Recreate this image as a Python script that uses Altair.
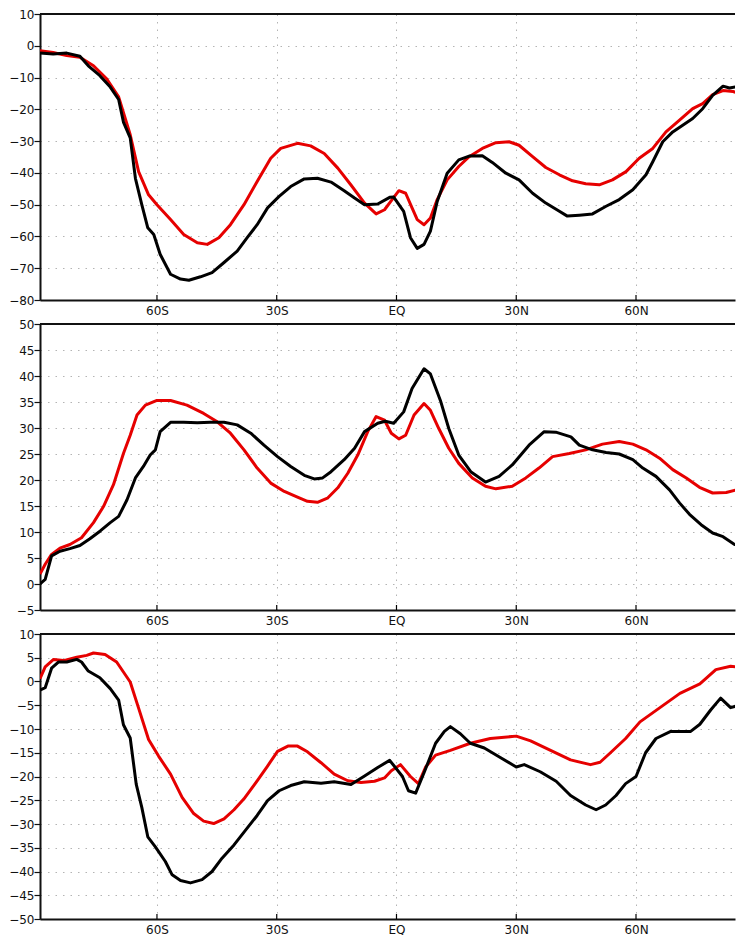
import altair as alt
import pandas as pd

# ---------------- data ----------------
x_ticks = [-60, -30, 0, 30, 60]

# Panel 1
p1_black_lat = [-89.3, -86, -82.6, -79.3, -77.2, -74.3, -71.7, -69.6, -68.4, -66.7, -65.4, -63.8, -62.3, -60.8,
                -59.2, -56.6, -54.1, -52, -49.1, -46.2, -43.2, -39.9, -37.4, -34.9, -32.3, -29.4, -26.5, -23.1,
                -19.8, -16.4, -13.1, -10.5, -8, -4.7, -1.7, -0.7, 1.8, 3.5, 5.2, 6.9, 8.5, 10.2, 12.7, 15.6, 18.2,
                21.5, 24, 27.4, 30.7, 34.1, 37.4, 40.8, 42.8, 45.8, 49.1, 52.5, 55.8, 59.2, 62.5, 64.2, 66.7,
                69.2, 71.7, 74.2, 76.7, 79.2, 81.8, 83.4, 85.9, 87.6]
p1_black_val = [-2.3, -2.6, -2.3, -3.3, -6.3, -9.4, -13, -16.9, -24, -29, -41.7, -50, -57.3, -59.4,
                -65.6, -71.9, -73.4, -73.8, -72.7, -71.4, -68.2, -64.6, -60.4, -56.3, -51, -47.4, -44.3, -41.9,
                -41.7, -42.9, -45.6, -47.9, -50, -49.8, -47.7, -47.6, -52.1, -60.4, -63.75, -62.5, -58.3, -49,
                -40.1, -35.9, -34.7, -34.6, -36.7, -40.1, -42.2, -46.4, -49.5, -52.1, -53.6, -53.3, -52.9, -50.5,
                -48.4, -45.3, -40.6, -36.5, -30.2, -27.1, -25, -22.9, -19.8, -15.6, -12.7, -13.3, -12.7, -15.4]
p1_red_lat = [-89.3, -86, -82.6, -79.3, -75.9, -72.6, -69.6, -66.7, -64.6, -62.1, -60, -56.6, -53.3, -49.9,
              -47.4, -44.5, -41.6, -38.2, -34.9, -31.5, -29, -24.8, -21.5, -18.1, -14.7, -11.4, -8, -5.1, -3,
              -1.1, 0.6, 2.3, 3.9, 5.2, 6.9, 8.5, 10.2, 12.7, 15.6, 18.2, 21.5, 24.9, 28.2, 30.7, 34.1, 37.4,
              40.8, 44.1, 47.4, 50.8, 54.1, 57.5, 60.8, 64.2, 67.5, 70.9, 74.2, 76.7, 79.2, 81.8, 84.3, 87.2]
p1_red_val = [-1.6, -2.1, -3.1, -3.6, -6.3, -10.4, -16.1, -28, -39.6, -46.9, -50, -54.7, -59.4, -62,
              -62.5, -60.4, -56.3, -50, -42.7, -35.4, -32.3, -30.7, -31.5, -33.9, -38.5, -43.8, -49.5, -52.9,
              -51.6, -48.4, -45.6, -46.4, -51, -54.7, -56.3, -54.2, -48.4, -42.2, -38, -34.9, -32.3, -30.5,
              -30.2, -31.3, -34.9, -38.3, -40.6, -42.5, -43.4, -43.75, -42.2, -39.6, -35.4, -32.3, -27.1,
              -23.4, -19.8, -18.2, -15.4, -14.1, -14.4, -15.6]

# Panel 2
p2_black_lat = [-89.3, -88, -86.4, -84.3, -81.8, -79.3, -76.8, -74.2, -71.7, -69.6, -67.5, -65.4, -63.4, -61.7,
                -60.4, -59.2, -56.6, -53.3, -49.9, -46.6, -43.2, -39.9, -36.5, -33.2, -29.8, -26.5, -23.1,
                -20.6, -18.5, -16.4, -13.1, -10.5, -8, -4.7, -2.8, -0.7, 1.8, 3.9, 6.9, 8.5, 11, 13.1, 15.6,
                18.6, 22.3, 25.7, 29, 33.2, 37, 39.9, 43.7, 45.8, 49.1, 52.5, 55.8, 59.2, 61.7, 65, 68.4, 70.9,
                73.4, 76.3, 79.2, 81.8, 84.7, 87.6]
p2_black_val = [0, 0.9, 5.4, 6.3, 6.8, 7.4, 8.7, 10.2, 11.8, 13, 16.2, 20.4, 22.6, 24.8,
                25.8, 29.3, 31.1, 31.1, 31, 31.1, 31.1, 30.6, 29, 26.7, 24.5, 22.6, 20.9,
                20.2, 20.4, 21.6, 23.9, 26.1, 29.3, 30.9, 31.3, 30.9, 33.1, 37.6, 41.4, 40.4, 35.3, 29.9, 24.8,
                21.6, 19.6, 20.7, 22.9, 26.7, 29.3, 29.2, 28.3, 26.7, 25.8, 25.3, 25, 23.9, 22.3, 20.7, 18.1,
                15.6, 13.4, 11.4, 9.8, 9.1, 7.6, 7.4]
p2_red_lat = [-89.3, -88, -86.4, -84.3, -81.8, -78.9, -75.9, -73.4, -70.9, -68.4, -66.7, -65, -62.9, -60,
              -56.6, -52.5, -48.3, -44.9, -41.6, -38.2, -34.9, -31.5, -28.1, -24.8, -22.3, -19.8, -17.3, -14.7,
              -12.2, -9.7, -7.2, -5.1, -3, -1.3, 0.6, 2.3, 4.4, 6.9, 8.5, 10.6, 13.1, 15.6, 19, 22.3, 24.9, 29,
              32.4, 35.7, 39.1, 43.3, 47.4, 51.6, 55.8, 59.2, 62.5, 65.9, 69.2, 72.6, 75.9, 79.2, 82.6, 85.1,
              86.4, 87.6]
p2_red_val = [1.9, 3.8, 5.7, 6.9, 7.6, 8.9, 11.8, 14.9, 19.1, 25.1, 28.6, 32.5, 34.4, 35.3,
              35.3, 34.4, 32.8, 31.2, 29, 25.8, 22.3, 19.4, 17.8, 16.7, 15.9, 15.7, 16.5, 18.5,
              21.3, 24.8, 29.3, 32.2, 31.5, 29, 27.9, 28.6, 32.5, 34.7, 33.4, 29.9, 26.1, 23.2, 20.4, 18.8,
              18.3, 18.8, 20.4, 22.3, 24.5, 25.1, 25.8, 26.9, 27.4, 26.9, 25.8, 24.2, 22, 20.4, 18.6, 17.5,
              17.6, 18.1, 17.5, 15.9]

# Panel 3
p3_black_lat = [-89.3, -88, -86.4, -84.7, -82.6, -80.1, -78.9, -77.2, -74.3, -71.7, -69.6, -68.4, -66.7, -65.2,
                -63.8, -62.3, -60.4, -57.9, -56.2, -54.1, -51.6, -48.7, -46.2, -43.7, -40.7, -37.8, -34.9,
                -32.3, -29.4, -26.5, -23.1, -18.9, -15.6, -11.4, -8, -4.7, -1.7, 1.5, 3, 4.8, 7, 9.8, 12, 13.5,
                16, 18.5, 22, 26, 30, 32, 36, 40, 43.6, 47.4, 50, 52.4, 55, 57.4, 60, 62.4, 65, 68.7, 73.7, 76,
                78.7, 81.2, 83.7, 85.7, 87.5]
p3_black_val = [-1.8, -1.3, 2.8, 4.1, 4.1, 4.65, 4.1, 2.2, 0.8, -1.5, -3.9, -9.1, -11.9, -21.6,
                -26.5, -32.7, -34.8, -37.9, -40.7, -41.9, -42.4, -41.7, -40, -37.2, -34.4, -31.3, -28.2,
                -25.1, -23, -21.9, -21.1, -21.4, -21.1, -21.7, -19.9, -18.1, -16.6, -20, -23, -23.5, -19, -13,
                -10.5, -9.5, -11, -13, -14, -16, -18, -17.5, -19, -21, -24, -26, -27, -26, -24, -21.5, -20, -15,
                -12, -10.5, -10.5, -9, -6, -3.5, -5.5, -5, -8]
p3_red_lat = [-89.3, -88, -85.9, -83.4, -80.1, -77.6, -75.9, -73, -70.1, -66.7, -64.6, -62.1, -59.6, -56.6,
              -53.7, -50.8, -48.3, -45.8, -43.2, -40.7, -38.2, -34.9, -32.3, -29.8, -27.2, -24.8, -22.3,
              -18.9, -15.6, -12.2, -8.9, -5.5, -3, -1.3, 1, 3.5, 5.5, 7.3, 9.8, 13.5, 18.5, 23.5, 30, 33.6,
              38.6, 43.6, 48.6, 51, 53.6, 57.4, 61, 66, 71, 76, 80, 83.7, 85.7, 87.5]
p3_red_val = [0.6, 3.1, 4.65, 4.4, 5.1, 5.5, 6, 5.7, 4.1, -0.1, -5.6, -12.2, -15.7, -19.5,
              -24.4, -27.8, -29.4, -29.9, -28.9, -27, -24.7, -20.9, -17.8, -14.7, -13.6, -13.6, -14.8,
              -17.1, -19.5, -20.9, -21.25, -21, -20.3, -18.8, -17.5, -20, -21.5, -18, -15.5, -14.5, -13, -12,
              -11.5, -12.5, -14.5, -16.5, -17.5, -17, -15, -12, -8.5, -5.5, -2.5, -0.5, 2.5, 3.2, 3, 1]

# ---------------- chart ----------------
RED = "#e60000"
W = 695
PX_PER_DEG = 3.992
X_DOMAIN = [-89.3, -89.3 + W / PX_PER_DEG]

label_expr = ("datum.value == 0 ? 'EQ' : (datum.value < 0 ? (-datum.value) + 'S' : datum.value + 'N')")


def panel(blat, bval, rlat, rval, ymin, ymax, ystep, h):
    red_df = pd.DataFrame({"lat": rlat, "value": rval})
    black_df = pd.DataFrame({"lat": blat, "value": bval})
    tick_df = pd.DataFrame({"lat": x_ticks})
    frame_df = pd.DataFrame({"k": [0]})

    xenc = alt.X(
        "lat:Q",
        scale=alt.Scale(domain=X_DOMAIN, nice=False, zero=False),
        axis=alt.Axis(values=x_ticks, labelExpr=label_expr, grid=True, ticks=False, tickSize=0,
                      labelPadding=5, title=None, labelFlush=False, labelOverlap=False),
    )
    yenc = alt.Y(
        "value:Q",
        scale=alt.Scale(domain=[ymin, ymax], nice=False, zero=False),
        axis=alt.Axis(values=list(range(ymin, ymax + 1, ystep)), grid=True, tickSize=6,
                      labelPadding=0, title=None, labelFlush=False, labelOverlap=False,
                      labelSeparation=0),
    )

    red = alt.Chart(red_df).mark_line(color=RED, strokeWidth=3, clip=True, strokeJoin="round").encode(
        x=xenc, y=yenc)
    black = alt.Chart(black_df).mark_line(color="black", strokeWidth=3, clip=True, strokeJoin="round").encode(
        x=xenc, y=yenc)
    ticks = alt.Chart(tick_df).mark_rule(color="black", strokeWidth=1.2).encode(
        x=xenc, y=alt.value(h), y2=alt.value(h - 5))
    top = alt.Chart(frame_df).mark_rule(color="#111111", strokeWidth=2).encode(
        x=alt.value(0), x2=alt.value(W), y=alt.value(0))

    return alt.layer(red, black, ticks, top).properties(width=W, height=h)


p1 = panel(p1_black_lat, p1_black_val, p1_red_lat, p1_red_val, -80, 10, 10, 286)
p2 = panel(p2_black_lat, p2_black_val, p2_red_lat, p2_red_val, -5, 50, 5, 286)
p3 = panel(p3_black_lat, p3_black_val, p3_red_lat, p3_red_val, -50, 10, 5, 285)

chart = (
    alt.vconcat(p1, p2, p3, spacing=24, bounds="flush")
    .properties(padding={"left": 0, "top": 0, "right": 0, "bottom": 0})
    .configure_view(strokeWidth=0)
    .configure_axis(
        domainColor="#111111", domainWidth=2, tickColor="#111111", tickWidth=1.2,
        labelFont="DejaVu Sans", labelFontSize=12, labelColor="#111111",
        gridColor="#b4b4b4", gridDash=[1.5, 6], gridWidth=1, labelOverlap=False,
    )
)

chart.save("out.html", embed_options={"renderer": "svg", "actions": False})
